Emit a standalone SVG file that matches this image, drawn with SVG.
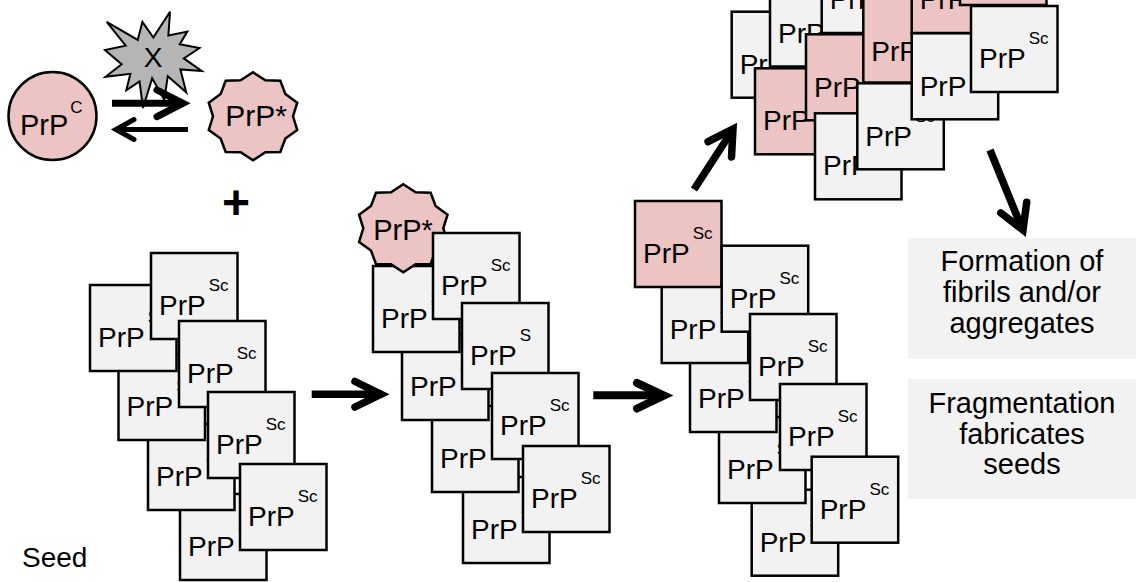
<svg xmlns="http://www.w3.org/2000/svg" xmlns:xlink="http://www.w3.org/1999/xlink" width="1138" height="582" viewBox="0 0 1138 582">
  <style>
    .box { fill: #f2f2f2; stroke: #000; stroke-width: 2.5; }
    .pink { fill: #ecc4c4; }
    .lbl { font-family: "Liberation Sans", Arial, sans-serif; font-size: 28px; fill: #000; }
    .sup { font-size: 17px; }
    .big { font-family: "Liberation Sans", Arial, sans-serif; font-size: 29px; fill: #000; text-anchor: middle; }
    .note { fill: #f2f2f2; }
    .shaft { fill: none; stroke: #000; stroke-linecap: butt; }
    .head { fill: none; stroke: #000; stroke-linecap: round; stroke-linejoin: miter; }
  </style>
  <defs>
    <!-- ten-point star, centred on the origin -->
    <polygon id="star10" points="0,-44 12.36,-35.95 27.33,-35.6 32.36,-22.22 44.23,-13.6 40,0 44.23,13.6 32.36,22.22 27.33,35.6 12.36,35.95 0,44 -12.36,35.95 -27.33,35.6 -32.36,22.22 -44.23,13.6 -40,0 -44.23,-13.6 -32.36,-22.22 -27.33,-35.6 -12.36,-35.95"/>
  </defs>
  <rect width="1138" height="582" fill="#fff"/>

  <!-- equilibrium PrPC <-> PrP* with factor X -->
  <g id="prpc">
    <circle cx="52.5" cy="116" r="44" class="box pink"/>
    <text class="lbl" x="20" y="135" style="font-size:29px">PrP<tspan class="sup" dx="2" dy="-22">C</tspan></text>
  </g>
  <g id="factor-x">
    <polygon points="153.35,37.56 170.01,11.7 168.37,35.44 187.29,31.57 179.77,44.31 199.45,47.98 183.83,58.4 201.7,70.95 180.38,69.4 186.24,92.37 167.77,76.15 164.31,99.69 152.15,78.28 142.99,108 139.54,81.37 126.32,90.24 130.37,73.83 105.6,76.73 121.66,64.19 105,50.11 125.71,45.66 106.66,21.93 137.74,39.88 142.39,21.93" fill="#b5b5b5" stroke="#000" stroke-width="2" stroke-linejoin="miter"/>
    <text class="lbl" x="153" y="66.5" text-anchor="middle">X</text>
  </g>
  <g id="prp-star-free">
    <use xlink:href="#star10" href="#star10" x="253" y="116.3" class="box pink"/>
    <text class="lbl" x="256" y="125.5" text-anchor="middle" style="font-size:30px">PrP*</text>
  </g>
  <g id="plus">
    <text x="236" y="219" text-anchor="middle" font-family="Liberation Sans, Arial, sans-serif" font-weight="bold" font-size="48">+</text>
  </g>

  <!-- seed fibril -->
  <g id="seed">
    <g id="seed-l4"><rect class="box" x="180" y="494" width="86.5" height="86"/><text class="lbl" x="188" y="556">PrP<tspan class="sup" dx="3" dy="-24">Sc</tspan></text></g>
    <g id="seed-l3"><rect class="box" x="148" y="424" width="86.5" height="86"/><text class="lbl" x="156" y="486">PrP<tspan class="sup" dx="3" dy="-24">Sc</tspan></text></g>
    <g id="seed-l2"><rect class="box" x="118.5" y="354" width="86.5" height="86"/><text class="lbl" x="126.5" y="416">PrP<tspan class="sup" dx="3" dy="-24">Sc</tspan></text></g>
    <g id="seed-l1"><rect class="box" x="90" y="285" width="86.5" height="86"/><text class="lbl" x="98" y="347">PrP<tspan class="sup" dx="3" dy="-24">Sc</tspan></text></g>
    <g id="seed-r1"><rect class="box" x="151" y="253" width="86.5" height="86"/><text class="lbl" x="159" y="315">PrP<tspan class="sup" dx="3" dy="-24">Sc</tspan></text></g>
    <g id="seed-r2"><rect class="box" x="179" y="321" width="86.5" height="86"/><text class="lbl" x="187" y="383">PrP<tspan class="sup" dx="3" dy="-24">Sc</tspan></text></g>
    <g id="seed-r3"><rect class="box" x="208" y="392" width="86.5" height="86"/><text class="lbl" x="216" y="454">PrP<tspan class="sup" dx="3" dy="-24">Sc</tspan></text></g>
    <g id="seed-r4"><rect class="box" x="240" y="464" width="86.5" height="86"/><text class="lbl" x="248" y="526">PrP<tspan class="sup" dx="3" dy="-24">Sc</tspan></text></g>
    <text class="lbl" x="22" y="567">Seed</text>
  </g>

  <!-- seed with bound PrP* -->
  <g id="binding">
    <g id="bind-l4"><rect class="box" x="463" y="477" width="86.5" height="86"/><text class="lbl" x="471" y="539">PrP<tspan class="sup" dx="3" dy="-24">Sc</tspan></text></g>
    <g id="bind-l3"><rect class="box" x="432" y="406" width="86.5" height="86"/><text class="lbl" x="440" y="468">PrP<tspan class="sup" dx="3" dy="-24">Sc</tspan></text></g>
    <g id="bind-l2"><rect class="box" x="402" y="334" width="86.5" height="86"/><text class="lbl" x="410" y="396">PrP<tspan class="sup" dx="3" dy="-24">Sc</tspan></text></g>
    <g id="bind-l1"><rect class="box" x="373" y="266" width="86.5" height="86"/><text class="lbl" x="381" y="328">PrP<tspan class="sup" dx="3" dy="-24">Sc</tspan></text></g>
    <g id="bind-star">
      <use xlink:href="#star10" href="#star10" x="403.3" y="228.3" class="box pink"/>
      <text class="lbl" x="403" y="239.5" text-anchor="middle" style="font-size:29px">PrP*</text>
    </g>
    <g id="bind-r1"><rect class="box" x="433" y="233" width="86.5" height="86"/><text class="lbl" x="441" y="295">PrP<tspan class="sup" dx="3" dy="-24">Sc</tspan></text></g>
    <g id="bind-r2"><rect class="box" x="462" y="303" width="86.5" height="86"/><text class="lbl" x="470" y="365">PrP<tspan class="sup" dx="3" dy="-24">S</tspan></text></g>
    <g id="bind-r3"><rect class="box" x="492" y="373" width="86.5" height="86"/><text class="lbl" x="500" y="435">PrP<tspan class="sup" dx="3" dy="-24">Sc</tspan></text></g>
    <g id="bind-r4"><rect class="box" x="523" y="446" width="86.5" height="86"/><text class="lbl" x="531" y="508">PrP<tspan class="sup" dx="3" dy="-24">Sc</tspan></text></g>
  </g>

  <!-- elongated fibril with newly converted unit -->
  <g id="elongated">
    <g id="elong-l4"><rect class="box" x="751.7" y="489.7" width="86.5" height="86"/><text class="lbl" x="759.7" y="551.7">PrP<tspan class="sup" dx="3" dy="-24">Sc</tspan></text></g>
    <g id="elong-l3"><rect class="box" x="719" y="417" width="86.5" height="86"/><text class="lbl" x="727" y="479">PrP<tspan class="sup" dx="3" dy="-24">Sc</tspan></text></g>
    <g id="elong-l2"><rect class="box" x="690" y="346" width="86.5" height="86"/><text class="lbl" x="698" y="408">PrP<tspan class="sup" dx="3" dy="-24">Sc</tspan></text></g>
    <g id="elong-l1"><rect class="box" x="661.7" y="277" width="86.5" height="86"/><text class="lbl" x="669.7" y="339">PrP<tspan class="sup" dx="3" dy="-24">Sc</tspan></text></g>
    <g id="elong-new"><rect class="box pink" x="635" y="201" width="86.5" height="86"/><text class="lbl" x="643" y="263">PrP<tspan class="sup" dx="3" dy="-24">Sc</tspan></text></g>
    <g id="elong-r1"><rect class="box" x="721.7" y="245.7" width="86.5" height="86"/><text class="lbl" x="729.7" y="307.7">PrP<tspan class="sup" dx="3" dy="-24">Sc</tspan></text></g>
    <g id="elong-r2"><rect class="box" x="750" y="314" width="86.5" height="86"/><text class="lbl" x="758" y="376">PrP<tspan class="sup" dx="3" dy="-24">Sc</tspan></text></g>
    <g id="elong-r3"><rect class="box" x="780" y="384" width="86.5" height="86"/><text class="lbl" x="788" y="446">PrP<tspan class="sup" dx="3" dy="-24">Sc</tspan></text></g>
    <g id="elong-r4"><rect class="box" x="811.7" y="456.7" width="86.5" height="86"/><text class="lbl" x="819.7" y="518.7">PrP<tspan class="sup" dx="3" dy="-24">Sc</tspan></text></g>
  </g>

  <!-- aggregate cluster -->
  <g id="aggregate">
    <g id="agg-a"><rect class="box" x="731.7" y="11.7" width="86.5" height="86"/><text class="lbl" x="739.7" y="73.7">PrP<tspan class="sup" dx="3" dy="-24">Sc</tspan></text></g>
    <g id="agg-b"><rect class="box" x="770" y="-19.5" width="86.5" height="86"/><text class="lbl" x="778" y="42.5">PrP<tspan class="sup" dx="3" dy="-24">Sc</tspan></text></g>
    <g id="agg-i"><rect class="box" x="821.7" y="-53" width="86.5" height="86"/><text class="lbl" x="829.7" y="9">PrP<tspan class="sup" dx="3" dy="-24">Sc</tspan></text></g>
    <g id="agg-d"><rect class="box pink" x="755" y="68.3" width="86.5" height="86"/><text class="lbl" x="763" y="130">PrP<tspan class="sup" dx="3" dy="-24">Sc</tspan></text></g>
    <g id="agg-e"><rect class="box pink" x="806" y="34.3" width="86.5" height="86"/><text class="lbl" x="814" y="97">PrP<tspan class="sup" dx="3" dy="-24">Sc</tspan></text></g>
    <g id="agg-g"><rect class="box pink" x="863.3" y="-3.5" width="86.5" height="86"/><text class="lbl" x="871.3" y="61">PrP<tspan class="sup" dx="3" dy="-24">Sc</tspan></text></g>
    <g id="agg-j"><rect class="box pink" x="911.7" y="-53" width="86.5" height="86"/><text class="lbl" x="919.7" y="9">PrP<tspan class="sup" dx="3" dy="-24">Sc</tspan></text></g>
    <g id="agg-f"><rect class="box" x="815" y="113.3" width="86.5" height="86"/><text class="lbl" x="823" y="175">PrP<tspan class="sup" dx="3" dy="-24">Sc</tspan></text></g>
    <g id="agg-h"><rect class="box" x="857.3" y="83.3" width="86.5" height="86"/><text class="lbl" x="865.3" y="146">PrP<tspan class="sup" dx="3" dy="-24">Sc</tspan></text></g>
    <g id="agg-k"><rect class="box" x="911.7" y="33.3" width="86.5" height="86"/><text class="lbl" x="919.7" y="96">PrP<tspan class="sup" dx="3" dy="-24">Sc</tspan></text></g>
    <g id="agg-m"><rect class="box pink" x="960" y="-81" width="86.5" height="86"/></g>
    <g id="agg-l"><rect class="box" x="971" y="6" width="86.5" height="86"/><text class="lbl" x="979" y="68.3">PrP<tspan class="sup" dx="3" dy="-24">Sc</tspan></text></g>
  </g>

  <!-- outcome notes -->
  <g id="note-fibrils">
    <rect class="note" x="908" y="238" width="228" height="121"/>
    <text class="big" x="1022" y="271">Formation of</text>
    <text class="big" x="1022" y="302">fibrils and/or</text>
    <text class="big" x="1022" y="333">aggregates</text>
  </g>
  <g id="note-fragmentation">
    <rect class="note" x="908" y="379" width="228" height="120"/>
    <text class="big" x="1022" y="413">Fragmentation</text>
    <text class="big" x="1022" y="443.5">fabricates</text>
    <text class="big" x="1022" y="473.5">seeds</text>
  </g>

  <!-- connectors -->
  <g id="connectors">
    <path class="shaft" d="M112,103.3 H180" stroke-width="7"/>
    <path class="head" d="M157,90 L183,103.3 L157,116.6" stroke-width="7"/>
    <path class="shaft" d="M119,129.5 H188" stroke-width="5"/>
    <path class="head" d="M134,119.5 L116,129.5 L134,139.5" stroke-width="5"/>

    <path class="shaft" d="M311.7,394.3 H378" stroke-width="7.5"/>
    <path class="head" d="M355,381.5 L381,394.3 L355,407" stroke-width="7.5"/>

    <path class="shaft" d="M593.3,395.3 H660" stroke-width="8"/>
    <path class="head" d="M637,383 L664,395.5 L637,408.5" stroke-width="8"/>

    <path class="shaft" d="M694,189.5 L730,134" stroke-width="7.5"/>
    <path class="head" d="M708.1,141.7 L733,129 L731.5,156.9" stroke-width="7.5"/>

    <path class="shaft" d="M990,150 L1021,226" stroke-width="7.5"/>
    <path class="head" d="M1026.7,202.3 L1023,230 L1000.8,212.9" stroke-width="7.5"/>
  </g>
</svg>
